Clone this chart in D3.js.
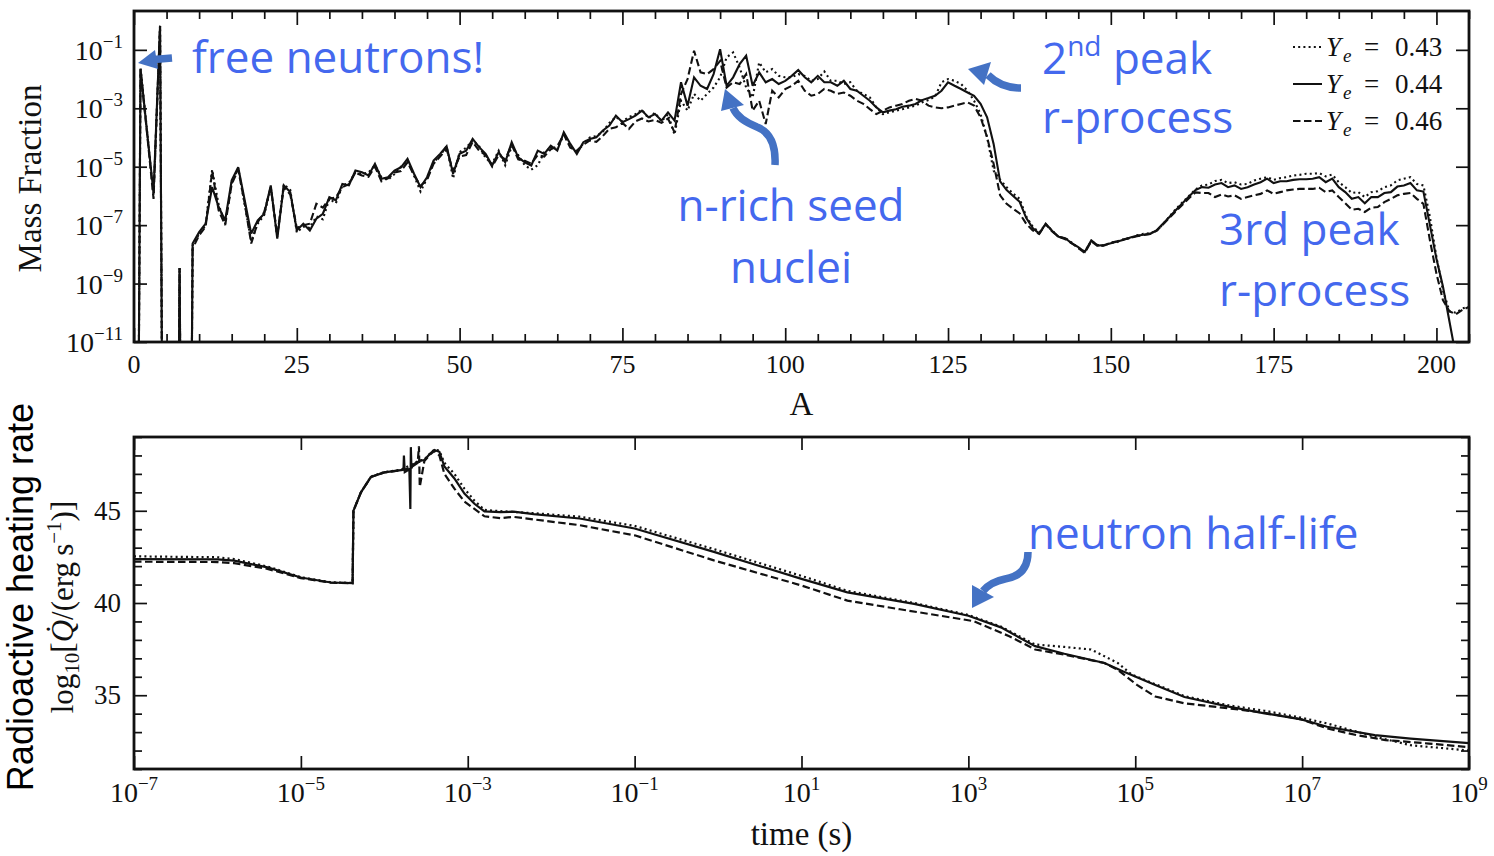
<!DOCTYPE html>
<html>
<head>
<meta charset="utf-8">
<script src="https://cdn.jsdelivr.net/npm/d3@7"></script>
<style>
  html, body { margin: 0; padding: 0; background: #fff; }
  svg { display: block; }
  .serif { font-family: "Liberation Serif", "DejaVu Serif", serif; fill: #111; }
  .note { font-family: "Open Sans", "Noto Sans", sans-serif; fill: #4468ee; }
</style>
</head>
<body>
<svg id="chart" width="1494" height="856"></svg>
<script>
// ---------------- data ----------------
// Mass number A of each abundance entry
const massNumbers = d3.range(0, 206);

// log10 of final mass fraction per mass number (null = zero abundance)
const logMassFracYe043 = [
  null, -1.60, -3.75, -6.00, -0.18, null, null, -8.47, null, -7.70,
  -7.30, -7.00, -5.10, -6.30, -6.95, -5.55, -5.05, -6.30, -7.55, -6.95,
  -6.65, -5.70, -7.40, -5.60, -5.80, -7.25, -7.05, -7.10, -6.70, -6.80,
  -6.10, -6.25, -5.65, -5.55, -5.20, -5.25, -5.20, -4.95, -5.35, -5.45,
  -5.25, -5.00, -4.80, -5.30, -5.85, -5.40, -4.85, -4.62, -4.30, -5.40,
  -4.50, -4.35, -4.10, -4.30, -4.70, -4.90, -4.45, -4.95, -4.30, -4.60,
  -4.95, -5.10, -4.95, -4.50, -4.35, -4.40, -3.90, -4.30, -4.50, -4.20,
  -4.00, -3.95, -3.80, -3.50, -3.30, -3.45, -3.30, -3.20, -3.05, -3.35,
  -3.15, -3.45, -3.20, -3.90, -2.74, -3.08, -2.51, -2.74, -2.51, -2.29,
  -1.94, -1.26, -1.09, -1.60, -2.29, -2.63, -1.43, -1.77, -1.66, -1.89,
  -1.94, -1.94, -1.83, -1.89, -2.06, -2.00, -1.74, -2.06, -2.06, -2.17,
  -2.11, -2.40, -2.51, -2.63, -2.97, -3.20, -3.14, -3.08, -3.03, -2.97,
  -2.91, -2.80, -2.72, -2.60, -2.11, -2.00, -2.06, -2.17, -2.40, -2.74,
  -3.20, -3.99, -5.13, -5.45, -5.70, -5.92, -6.10, -6.70, -7.05, -7.25,
  -6.98, -7.18, -7.42, -7.44, -7.60, -7.78, -7.90, -7.55, -7.68, -7.70,
  -7.60, -7.58, -7.48, -7.44, -7.35, -7.30, -7.28, -7.20, -6.97, -6.70,
  -6.45, -6.22, -6.00, -5.78, -5.64, -5.61, -5.49, -5.45, -5.56, -5.53,
  -5.61, -5.59, -5.47, -5.41, -5.36, -5.45, -5.39, -5.36, -5.30, -5.28,
  -5.24, -5.24, -5.22, -5.33, -5.27, -5.53, -5.70, -5.90, -5.87, -6.04,
  -5.87, -5.84, -5.70, -5.64, -5.47, -5.41, -5.36, -5.59, -5.64, -6.72,
  -8.09, -9.23, -9.95, -10.00, -9.85, -9.80
];
const logMassFracYe044 = [
  null, -1.65, -3.80, -5.90, -0.18, null, null, -8.47, null, -7.63,
  -7.24, -6.95, -5.70, -6.38, -6.84, -5.47, -5.02, -6.15, -7.29, -6.84,
  -6.61, -5.64, -7.46, -5.64, -5.87, -7.18, -6.95, -7.18, -6.78, -6.61,
  -6.04, -6.15, -5.59, -5.64, -5.13, -5.19, -5.30, -4.90, -5.41, -5.36,
  -5.13, -5.02, -4.73, -5.24, -5.70, -5.36, -4.79, -4.56, -4.30, -5.24,
  -4.56, -4.45, -4.05, -4.33, -4.56, -4.96, -4.50, -4.85, -4.16, -4.68,
  -4.85, -4.96, -4.45, -4.56, -4.28, -4.45, -3.82, -4.22, -4.56, -4.16,
  -4.05, -3.99, -3.76, -3.59, -3.25, -3.48, -3.37, -3.25, -3.08, -3.31,
  -3.20, -3.42, -3.14, -3.42, -2.11, -2.91, -1.94, -2.23, -2.34, -1.83,
  -0.98, -2.23, -1.94, -1.49, -1.20, -2.23, -1.77, -2.11, -2.00, -2.17,
  -2.06, -1.89, -1.69, -1.94, -2.11, -1.89, -2.11, -2.11, -2.23, -2.06,
  -2.34, -2.40, -2.57, -2.74, -2.97, -3.14, -3.08, -3.03, -2.95, -2.91,
  -2.85, -2.72, -2.65, -2.57, -2.40, -2.11, -2.23, -2.34, -2.46, -2.57,
  -2.85, -3.31, -4.22, -5.50, -5.80, -6.00, -6.20, -6.75, -7.10, -7.29,
  -6.95, -7.20, -7.40, -7.45, -7.62, -7.75, -7.92, -7.52, -7.70, -7.68,
  -7.62, -7.56, -7.50, -7.42, -7.36, -7.33, -7.30, -7.18, -6.95, -6.72,
  -6.48, -6.25, -6.02, -5.80, -5.70, -5.72, -5.61, -5.56, -5.70, -5.64,
  -5.76, -5.70, -5.61, -5.53, -5.41, -5.56, -5.50, -5.50, -5.45, -5.43,
  -5.43, -5.41, -5.36, -5.53, -5.41, -5.70, -5.87, -6.10, -6.04, -6.25,
  -6.04, -6.04, -5.90, -5.87, -5.68, -5.64, -5.56, -5.81, -5.85, -7.00,
  -8.15, -9.10, -10.30, -11.50, -12.70, -13.90
];
const logMassFracYe046 = [
  null, -1.70, -3.85, -6.10, -0.18, null, null, -8.47, null, -7.80,
  -7.35, -7.05, -5.15, -6.50, -7.00, -5.60, -5.10, -6.25, -7.63, -6.90,
  -6.55, -5.70, -7.35, -5.70, -5.95, -7.10, -7.00, -6.95, -6.27, -6.40,
  -6.10, -6.05, -5.70, -5.60, -5.20, -5.30, -5.35, -5.00, -5.50, -5.40,
  -5.20, -5.15, -4.85, -5.30, -5.65, -5.45, -4.90, -4.65, -4.40, -5.15,
  -4.65, -4.60, -4.15, -4.45, -4.60, -5.00, -4.60, -4.75, -4.25, -4.75,
  -4.80, -4.90, -4.60, -4.65, -4.40, -4.30, -3.90, -4.35, -4.45, -4.25,
  -4.10, -4.15, -3.95, -3.70, -3.65, -3.50, -3.71, -3.45, -3.35, -3.45,
  -3.40, -3.50, -3.35, -3.82, -2.51, -2.00, -1.03, -1.77, -1.83, -1.66,
  -1.38, -2.29, -2.11, -2.17, -1.83, -3.08, -2.74, -3.54, -2.40, -2.63,
  -2.34, -2.23, -2.06, -2.40, -2.57, -2.51, -2.34, -2.40, -2.51, -2.46,
  -2.57, -2.74, -2.85, -3.03, -3.20, -3.08, -2.97, -2.91, -2.85, -2.74,
  -2.68, -2.74, -2.91, -2.97, -3.00, -2.97, -2.91, -2.85, -2.80, -2.91,
  -3.31, -3.99, -4.90, -5.98, -6.27, -6.44, -6.60, -6.95, -7.18, -7.30,
  -6.97, -7.22, -7.40, -7.48, -7.62, -7.78, -7.95, -7.55, -7.72, -7.70,
  -7.60, -7.55, -7.48, -7.44, -7.38, -7.34, -7.30, -7.20, -6.98, -6.75,
  -6.52, -6.30, -6.08, -5.88, -5.90, -5.90, -6.04, -5.95, -6.02, -5.98,
  -6.10, -6.04, -5.98, -5.93, -5.81, -5.93, -5.87, -5.81, -5.78, -5.76,
  -5.76, -5.76, -5.72, -5.87, -5.81, -6.04, -6.25, -6.47, -6.44, -6.55,
  -6.40, -6.38, -6.21, -6.10, -5.98, -5.93, -5.90, -6.10, -6.27, -7.52,
  -8.66, -9.57, -9.95, -10.05, -9.90, -9.80
];

// Heating rate history: log10(time / s) and log10(Qdot / erg s^-1)
const logTimeYe043 = [-7.0, -6.0, -5.8, -5.4, -5.0, -4.64, -4.38, -4.37, -4.28, -4.16, -4.0, -3.80, -3.58, -3.52, -3.45, -3.40, -3.34, -3.28, -3.16, -3.04, -2.92, -2.80, -2.61, -2.21, -1.66, -1.0, -0.05, 1.0, 1.55, 2.35, 3.0, 3.39, 3.80, 4.15, 4.47, 4.79, 4.96, 5.24, 5.59, 6.12, 6.55, 6.99, 7.30, 7.87, 8.30, 9.0];
const logQdotYe043 = [42.53, 42.48, 42.38, 41.98, 41.40, 41.12, 41.09, 45.0, 46.0, 46.85, 47.1, 47.22, 47.72, 47.78, 48.12, 48.32, 48.25, 47.6, 47.0, 46.2, 45.55, 45.05, 44.98, 44.87, 44.68, 44.18, 42.92, 41.47, 40.66, 40.00, 39.35, 38.72, 37.75, 37.62, 37.48, 36.75, 36.11, 35.60, 34.95, 34.45, 34.16, 33.78, 33.47, 32.75, 32.29, 32.00];

const logTimeYe044 = [-7.0, -6.0, -5.8, -5.4, -5.0, -4.64, -4.38, -4.37, -4.28, -4.16, -4.0, -3.80, -3.77, -3.765, -3.755, -3.70, -3.688, -3.682, -3.675, -3.66, -3.58, -3.52, -3.45, -3.40, -3.34, -3.28, -3.16, -3.04, -2.92, -2.80, -2.61, -2.45, -2.21, -1.66, -1.0, -0.05, 1.0, 1.55, 2.35, 3.0, 3.39, 3.80, 4.15, 4.63, 4.85, 5.24, 5.59, 6.12, 6.55, 6.99, 7.30, 7.87, 8.30, 9.0];
const logQdotYe044 = [42.38, 42.36, 42.30, 41.93, 41.38, 41.11, 41.08, 45.0, 46.0, 46.84, 47.08, 47.2, 47.25, 48.0, 47.1, 47.25, 45.1, 48.45, 47.3, 47.5, 47.7, 47.75, 48.1, 48.3, 48.2, 47.4, 46.75, 45.93, 45.38, 44.97, 44.93, 44.95, 44.82, 44.58, 44.04, 42.77, 41.31, 40.58, 39.95, 39.31, 38.68, 37.66, 37.25, 36.75, 36.30, 35.55, 34.90, 34.38, 34.02, 33.69, 33.29, 32.84, 32.65, 32.40];

const logTimeYe046 = [-7.0, -6.0, -5.8, -5.4, -5.0, -4.64, -4.38, -4.37, -4.28, -4.16, -4.0, -3.80, -3.70, -3.60, -3.585, -3.575, -3.52, -3.45, -3.40, -3.34, -3.28, -3.16, -3.04, -2.92, -2.80, -2.61, -2.45, -1.66, -1.0, -0.05, 1.0, 1.55, 2.18, 3.06, 3.49, 3.80, 4.15, 4.63, 4.79, 5.02, 5.24, 5.59, 6.12, 6.55, 6.99, 7.30, 7.65, 8.0, 8.52, 9.0];
const logQdotYe046 = [42.24, 42.22, 42.16, 41.85, 41.35, 41.10, 41.07, 45.0, 46.0, 46.84, 47.08, 47.2, 47.3, 47.6, 48.5, 46.3, 47.7, 48.05, 48.25, 48.0, 47.0, 46.2, 45.5, 45.1, 44.7, 44.6, 44.67, 44.22, 43.67, 42.31, 40.95, 40.13, 39.66, 39.02, 38.2, 37.48, 37.2, 36.75, 36.38, 35.56, 34.93, 34.56, 34.29, 34.05, 33.69, 33.2, 32.84, 32.57, 32.38, 32.18];

// Series labels (electron fraction)
const yeLabels = ["0.43", "0.44", "0.46"];

// Tick values and labels
const massTicks = [0, 25, 50, 75, 100, 125, 150, 175, 200];
const massMinorTicks = d3.range(0, 206, 5);
const fracTickExponents = [-11, -9, -7, -5, -3, -1];
const timeTickExponents = [-7, -5, -3, -1, 1, 3, 5, 7, 9];
const heatTicks = [35, 40, 45];
const heatMinorTicks = d3.range(31, 50, 1);

// ---------------- layout ----------------
const svg = d3.select("#chart");
const P1 = { left: 134, right: 1469, top: 11, bottom: 342 };
const P2 = { left: 134, right: 1469, top: 437, bottom: 769 };
const ZERO_FLOOR = 1e-40;   // zero abundances are pushed far below the axis
const styles = [
  { dash: "2,3.2" },   // Ye = 0.43
  { dash: null },      // Ye = 0.44
  { dash: "7.5,3.5" }  // Ye = 0.46
];
const ink = "#111";

const xA = d3.scaleLinear().domain([0, 205]).range([P1.left, P1.right]);
const yX = d3.scaleLog().domain([1e-11, Math.pow(10, 0.33)]).range([P1.bottom, P1.top]);
const xT = d3.scaleLog().domain([1e-7, 1e9]).range([P2.left, P2.right]);
const yQ = d3.scaleLinear().domain([31, 49]).range([P2.bottom, P2.top]);

const defs = svg.append("defs");
[["clip1", P1], ["clip2", P2]].forEach(([id, p]) => {
  defs.append("clipPath").attr("id", id).append("rect")
    .attr("x", p.left).attr("y", p.top)
    .attr("width", p.right - p.left).attr("height", p.bottom - p.top);
});

function tickSet(transform, axisFn, scale, values, size) {
  const g = svg.append("g").attr("transform", transform)
    .call(axisFn(scale).tickValues(values).tickSize(size).tickFormat(""));
  g.select(".domain").remove();
  g.selectAll(".tick line").attr("stroke", ink).attr("stroke-width", 1.7);
}

// ---------------- top panel: final abundances ----------------
const massSeries = [logMassFracYe043, logMassFracYe044, logMassFracYe046].map(arr =>
  massNumbers.map((a, i) => ({ a, v: arr[i] === null ? ZERO_FLOOR : Math.pow(10, arr[i]) }))
);
const massLine = d3.line().x(d => xA(d.a)).y(d => yX(d.v));
const g1 = svg.append("g").attr("clip-path", "url(#clip1)");
massSeries.forEach((s, i) => {
  g1.append("path").datum(s).attr("d", massLine)
    .attr("fill", "none").attr("stroke", ink).attr("stroke-width", 2.1)
    .attr("stroke-linejoin", "miter").attr("stroke-miterlimit", 3)
    .attr("stroke-dasharray", styles[i].dash);
});

tickSet(`translate(0,${P1.bottom})`, d3.axisBottom, xA, massMinorTicks.filter(t => t % 25), -8);
tickSet(`translate(0,${P1.bottom})`, d3.axisBottom, xA, massTicks, -14);
tickSet(`translate(0,${P1.top})`, d3.axisTop, xA, massMinorTicks.filter(t => t % 25), -8);
tickSet(`translate(0,${P1.top})`, d3.axisTop, xA, massTicks, -14);
const fracTicks = fracTickExponents.map(e => Math.pow(10, e));
tickSet(`translate(${P1.left},0)`, d3.axisLeft, yX, fracTicks, -13);
tickSet(`translate(${P1.right},0)`, d3.axisRight, yX, fracTicks, -13);

svg.append("rect").attr("x", P1.left).attr("y", P1.top)
  .attr("width", P1.right - P1.left).attr("height", P1.bottom - P1.top)
  .attr("fill", "none").attr("stroke", ink).attr("stroke-width", 2.8);

svg.append("g").selectAll("text").data(massTicks).join("text")
  .attr("class", "serif").attr("x", d => xA(d)).attr("y", P1.bottom + 31)
  .attr("text-anchor", "middle").attr("font-size", 26).text(d => d);

fracTickExponents.forEach(e => {
  const t = svg.append("text").attr("class", "serif").attr("text-anchor", "end")
    .attr("x", P1.left - 11).attr("y", yX(Math.pow(10, e)) + 10).attr("font-size", 28);
  t.append("tspan").text("10");
  t.append("tspan").attr("font-size", 19).attr("dy", -12).text("\u2212" + Math.abs(e));
});

svg.append("text").attr("class", "serif").attr("font-size", 33)
  .attr("transform", `translate(41,${(P1.top + P1.bottom) / 2 + 2}) rotate(-90)`)
  .attr("text-anchor", "middle").text("Mass Fraction");
svg.append("text").attr("class", "serif").attr("font-size", 33)
  .attr("x", (P1.left + P1.right) / 2).attr("y", 415).attr("text-anchor", "middle").text("A");

// legend
const legendRows = [47, 84, 121];
yeLabels.forEach((lab, i) => {
  const y = legendRows[i];
  svg.append("line").attr("x1", 1293).attr("x2", 1322).attr("y1", y).attr("y2", y)
    .attr("stroke", ink).attr("stroke-width", 2).attr("stroke-dasharray", styles[i].dash);
  const t = svg.append("text").attr("class", "serif").attr("font-size", 27).attr("y", y + 9);
  t.append("tspan").attr("x", 1326).attr("font-style", "italic").text("Y");
  t.append("tspan").attr("x", 1343).attr("dy", 6).attr("font-size", 19).attr("font-style", "italic").text("e");
  t.append("tspan").attr("x", 1364).attr("dy", -6).text("=");
  t.append("tspan").attr("x", 1395).text(lab);
});

// ---------------- bottom panel: heating rate ----------------
const heatSeries = [[logTimeYe043, logQdotYe043], [logTimeYe044, logQdotYe044], [logTimeYe046, logQdotYe046]]
  .map(([lt, lq]) => lt.map((e, i) => ({ t: Math.pow(10, e), q: lq[i] })));
const heatLine = d3.line().x(d => xT(d.t)).y(d => yQ(d.q));
const g2 = svg.append("g").attr("clip-path", "url(#clip2)");
heatSeries.forEach((s, i) => {
  g2.append("path").datum(s).attr("d", heatLine)
    .attr("fill", "none").attr("stroke", ink).attr("stroke-width", 2.2)
    .attr("stroke-dasharray", styles[i].dash);
});

const timeTicks = timeTickExponents.map(e => Math.pow(10, e));
tickSet(`translate(0,${P2.bottom})`, d3.axisBottom, xT, timeTicks, -13);
tickSet(`translate(0,${P2.top})`, d3.axisTop, xT, timeTicks, -13);
tickSet(`translate(${P2.left},0)`, d3.axisLeft, yQ, heatMinorTicks.filter(t => t % 5), -8);
tickSet(`translate(${P2.left},0)`, d3.axisLeft, yQ, heatTicks, -13);
tickSet(`translate(${P2.right},0)`, d3.axisRight, yQ, heatMinorTicks.filter(t => t % 5), -8);
tickSet(`translate(${P2.right},0)`, d3.axisRight, yQ, heatTicks, -13);

svg.append("rect").attr("x", P2.left).attr("y", P2.top)
  .attr("width", P2.right - P2.left).attr("height", P2.bottom - P2.top)
  .attr("fill", "none").attr("stroke", ink).attr("stroke-width", 2.8);

timeTickExponents.forEach(e => {
  const t = svg.append("text").attr("class", "serif").attr("text-anchor", "middle")
    .attr("x", xT(Math.pow(10, e))).attr("y", P2.bottom + 33).attr("font-size", 28);
  t.append("tspan").text("10");
  t.append("tspan").attr("font-size", 19).attr("dy", -12).text((e < 0 ? "\u2212" : "") + Math.abs(e));
});
svg.append("g").selectAll("text").data(heatTicks).join("text")
  .attr("class", "serif").attr("x", P2.left - 13).attr("y", d => yQ(d) + 9)
  .attr("text-anchor", "end").attr("font-size", 27).text(d => d);

svg.append("text").attr("class", "serif").attr("font-size", 33)
  .attr("x", (P2.left + P2.right) / 2).attr("y", 845).attr("text-anchor", "middle").text("time (s)");

const ql = svg.append("text").attr("class", "serif").attr("font-size", 31)
  .attr("transform", `translate(73,${(P2.top + P2.bottom) / 2 + 4}) rotate(-90)`)
  .attr("text-anchor", "middle");
ql.append("tspan").text("log");
ql.append("tspan").attr("font-size", 21).attr("dy", 6).text("10");
ql.append("tspan").attr("dy", -6).text("[");
ql.append("tspan").attr("font-style", "italic").text("Q\u0307");
ql.append("tspan").text("/(erg\u2009s");
ql.append("tspan").attr("font-size", 21).attr("dy", -12).text("\u22121");
ql.append("tspan").attr("dy", 12).text(")]");

svg.append("text").attr("font-family", "'Liberation Sans', Arial, sans-serif").attr("fill", "#000")
  .attr("font-size", 36)
  .attr("transform", "translate(33,597) rotate(-90)").attr("text-anchor", "middle")
  .text("Radioactive heating rate");

// ---------------- annotations ----------------
const note = (x, y, str, anchor) => svg.append("text").attr("class", "note")
  .attr("x", x).attr("y", y).attr("font-size", 44).attr("text-anchor", anchor || "start").text(str);

note(192, 73, "free neutrons!");
const peak2 = note(1042, 74, "");
peak2.append("tspan").text("2");
peak2.append("tspan").attr("font-size", 28).attr("dy", -18).text("nd");
peak2.append("tspan").attr("dy", 18).text(" peak");
note(1042, 133, "r-process");
note(791, 221, "n-rich seed", "middle");
note(791, 283, "nuclei", "middle");
note(1219, 245, "3rd peak");
note(1219, 306, "r-process");
note(1028, 549, "neutron half-life");

const arrowBlue = "#4472c4";
const arrows = [
  { shaft: "M172,58 L154,59.5", head: "138,63 155,50 158,69" },
  { shaft: "M775,165 C776,145 770,132 757,127 C745,122 737,117 733,108", head: "725,89 721,111 744,105" },
  { shaft: "M1021,88 C1008,88 997,84 988,75", head: "968,69 991,62 984,85" },
  { shaft: "M1028,552 C1028,570 1018,577 1005,579 C995,581 988,585 983,591", head: "972,608 972,585 994,597" }
];
arrows.forEach(a => {
  svg.append("path").attr("d", a.shaft).attr("fill", "none")
    .attr("stroke", arrowBlue).attr("stroke-width", 7.5);
  svg.append("polygon").attr("points", a.head).attr("fill", arrowBlue);
});
</script>
</body>
</html>
